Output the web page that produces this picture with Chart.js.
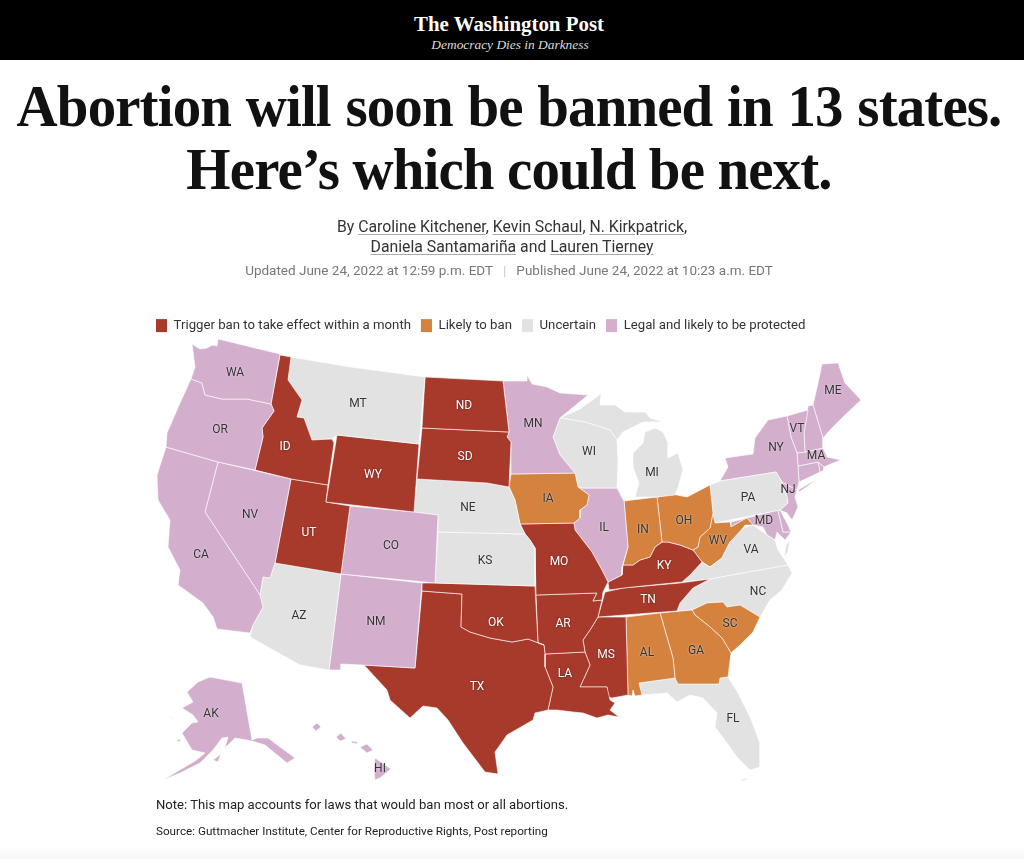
<!DOCTYPE html>
<html>
<head>
<meta charset="utf-8">
<title>Abortion will soon be banned in 13 states</title>
<script src="https://cdn.jsdelivr.net/npm/chart.js"></script>
<style>
    html, body { margin: 0; padding: 0; background: #fff; }
    body { position: relative; width: 1024px; height: 859px; overflow: hidden; font-family: Roboto, sans-serif; color: #222; }
    #map { position: absolute; left: 0; top: 0; }
    .t { position: absolute; left: 0; width: 1024px; text-align: center; white-space: nowrap; }
    #bar { position: absolute; left: 0; top: 0; width: 1024px; height: 60px; background: #000; }
    #logo { top: 8px; left: -3px; color: #fff; font: bold 20.9px/32px "Liberation Serif", serif; }
    #motto { top: 36px; left: -2px; color: #ddd; font: italic 13.4px/17px "Liberation Serif", serif; }
    .head { font: 700 60px/70px "Liberation Serif", serif; color: #111; letter-spacing: -0.9px; transform: scaleX(0.948); }
    .by { font-size: 15.8px; line-height: 20px; color: #333; }
    .by u { text-decoration-color: #aaa; text-underline-offset: 2px; }
    #dates { top: 261px; left: -3px; font-size: 13.5px; line-height: 18px; color: #777; }
    #dates span { color: #ccc; margin: 0 10px; }
    .foot { position: absolute; left: 156px; white-space: nowrap; }
    #fade { position: absolute; left: 0; top: 846px; width: 1024px; height: 13px; background: linear-gradient(#fff, #f7f7f7); }
</style>
</head>
<body>
<canvas id="map" width="1024" height="859"></canvas>
<div id="bar"></div>
<div id="logo" class="t">The Washington Post</div>
<div id="motto" class="t">Democracy Dies in Darkness</div>
<div class="t head" style="top:71px;left:-10px;word-spacing:1.4px">Abortion will soon be banned in 13 states.</div>
<div class="t head" style="top:134px;left:-3px">Here’s which could be next.</div>
<div class="t by" style="top:217px">By <u>Caroline Kitchener</u>, <u>Kevin Schaul</u>, <u>N. Kirkpatrick</u>,</div>
<div class="t by" style="top:237px"><u>Daniela Santamariña</u> and <u>Lauren Tierney</u></div>
<div id="dates" class="t">Updated June 24, 2022 at 12:59 p.m. EDT<span>|</span>Published June 24, 2022 at 10:23 a.m. EDT</div>
<div class="foot" style="top:796px;font-size:13.1px;line-height:18px;color:#222">Note: This map accounts for laws that would ban most or all abortions.</div>
<div class="foot" style="top:823px;font-size:11.7px;line-height:16px;color:#222">Source: Guttmacher Institute, Center for Reproductive Rights, Post reporting</div>
<div id="fade"></div>

<script>
    // legend classes
    const categories = ['Trigger ban to take effect within a month', 'Likely to ban', 'Uncertain', 'Legal and likely to be protected'];
    const triggerStates = ['ID', 'WY', 'UT', 'ND', 'SD', 'TX', 'OK', 'MO', 'AR', 'LA', 'MS', 'TN', 'KY'];
    const likelyStates = ['IA', 'IN', 'OH', 'WV', 'AL', 'GA', 'SC'];
    const uncertainStates = ['MT', 'AZ', 'NE', 'KS', 'WI', 'MI', 'PA', 'VA', 'NC', 'FL'];
    const protectedStates = ['WA', 'OR', 'CA', 'NV', 'CO', 'NM', 'MN', 'IL', 'NY', 'VT', 'NH', 'ME', 'MA', 'CT', 'RI', 'NJ', 'DE', 'MD', 'AK', 'HI'];

    // state outlines, in map units
    const WA = [[218,339],[280,354],[271,404],[247,399],[222,399],[205,395],[202,383],[191,379],[195,367],[192,344],[200,349],[207,348],[212,345],[217,346]];
    const OR = [[191,379],[202,383],[205,395],[222,399],[247,399],[271,404],[274,411],[262,428],[263,437],[255,470],[218,462],[166,447],[167,433],[180,403]];
    const CA = [[166,447],[218,462],[205,512],[260,595],[263,607],[253,625],[250,633],[217,629],[213,617],[203,603],[178,585],[180,570],[168,547],[170,520],[158,500],[157,475]];
    const NV = [[218,462],[291,479],[275,563],[270,578],[263,577],[260,595],[205,512]];
    const ID = [[280,355],[291,357],[288,380],[302,400],[297,417],[304,418],[312,440],[332,439],[334,443],[328,485],[291,479],[255,470],[263,437],[262,428],[274,411],[271,404]];
    const MT = [[291,357],[350,367],[425,377],[419,444],[337,435],[332,439],[312,440],[304,418],[297,417],[302,400],[288,380]];
    const WY = [[337,435],[419,444],[414,512],[326,502]];
    const UT = [[291,479],[328,485],[326,502],[350,506],[341,574],[275,563]];
    const CO = [[350,506],[414,512],[438,515],[435,583],[341,574]];
    const AZ = [[275,563],[341,574],[329,670],[300,665],[250,637],[253,625],[263,607],[260,595],[263,577],[270,578]];
    const NM = [[341,574],[422,583],[415,668],[363,665],[341,664],[341,670],[329,670]];
    const ND = [[425,377],[503,381],[509,432],[422,428]];
    const SD = [[422,428],[509,432],[507,437],[511,442],[509,487],[487,483],[417,479]];
    const NE = [[417,479],[487,483],[509,487],[515,500],[520,524],[525,534],[438,532],[438,515],[414,512]];
    const KS = [[438,532],[525,534],[530,540],[535,548],[535,586],[435,583]];
    const OK = [[422,583],[435,583],[535,586],[538,643],[544,645],[528,639],[512,642],[490,638],[470,632],[461,627],[462,594],[422,591]];
    const TX = [[422,591],[462,594],[461,627],[470,632],[490,638],[512,642],[528,639],[544,645],[545,654],[545,667],[553,687],[548,710],[535,713],[533,720],[507,735],[495,752],[498,774],[485,772],[463,743],[448,720],[437,708],[423,706],[410,718],[390,700],[387,690],[364,665],[415,668]];
    const MN = [[503,381],[527,381],[527,375],[532,384],[547,387],[560,393],[588,395],[560,418],[553,437],[560,455],[575,473],[511,474],[511,442],[507,437],[509,432]];
    const IA = [[511,474],[575,473],[578,487],[589,495],[587,505],[580,510],[580,518],[574,523],[520,524],[515,500],[509,487]];
    const MO = [[520,524],[574,523],[575,530],[592,552],[603,572],[608,582],[603,592],[602,600],[593,601],[597,593],[536,595],[535,548],[530,540],[525,534]];
    const AR = [[536,595],[597,593],[593,601],[602,600],[598,617],[590,630],[583,640],[585,652],[545,654],[544,645],[538,643]];
    const LA = [[545,654],[585,652],[590,665],[580,687],[607,687],[610,700],[615,703],[610,710],[619,717],[608,715],[597,718],[583,713],[573,712],[557,710],[548,710],[553,687],[545,667]];
    const WI = [[560,418],[585,422],[610,430],[617,440],[618,460],[617,488],[582,488],[578,487],[575,473],[560,455],[553,437]];
    const IL = [[582,488],[617,488],[624,501],[628,547],[622,567],[622,575],[608,582],[603,572],[592,552],[575,530],[574,523],[580,518],[580,510],[587,505],[589,495],[578,487]];
    const MIupper = [[560,418],[580,409],[598,396],[601,393],[600,405],[615,405],[625,412],[645,412],[650,418],[663,422],[643,422],[623,432],[617,440],[610,430],[585,422]];
    const MIlower = [[633,453],[643,443],[645,432],[655,428],[663,432],[668,443],[668,458],[678,453],[683,470],[678,487],[675,495],[657,497],[635,497],[639,483],[633,467]];
    const IN = [[624,501],[657,497],[662,542],[655,547],[650,557],[640,560],[633,565],[623,565],[628,547]];
    const OH = [[657,497],[672,494],[687,497],[710,485],[713,513],[710,528],[700,537],[698,547],[693,550],[680,545],[668,542],[662,542]];
    const KY = [[623,565],[633,565],[640,560],[650,557],[655,547],[662,542],[668,542],[680,545],[693,550],[702,562],[690,575],[682,582],[633,587],[624,588],[609,590],[608,582],[622,575]];
    const TN = [[710,579],[693,588],[680,603],[677,611],[598,617],[605,592],[623,588],[680,583]];
    const MS = [[598,617],[626,617],[628,695],[612,698],[608,697],[607,687],[580,687],[590,665],[585,652],[583,640],[590,630]];
    const AL = [[626,617],[660,613],[673,658],[675,678],[639,683],[642,695],[635,696],[633,690],[632,696],[628,695]];
    const GA = [[660,613],[692,610],[695,615],[710,627],[722,638],[731,653],[728,677],[720,678],[719,684],[678,684],[675,678],[673,658]];
    const SC = [[692,610],[707,603],[723,602],[727,607],[740,605],[760,617],[753,632],[740,645],[731,653],[722,638],[710,627],[695,615]];
    const FL = [[639,683],[675,678],[678,684],[719,684],[720,678],[728,677],[738,693],[750,717],[760,743],[760,767],[750,770],[737,757],[727,743],[715,727],[717,713],[703,698],[690,695],[677,702],[667,693],[642,695]];
    const FLkeys = [[740,781],[746,778],[748,778],[744,781]];
    const NC = [[710,579],[788,565],[792,573],[782,590],[770,600],[760,617],[740,605],[727,607],[723,602],[707,603],[692,610],[677,611],[680,603],[693,588]];
    const VA = [[682,582],[690,575],[702,562],[710,567],[722,558],[730,542],[743,528],[753,525],[767,535],[775,540],[778,550],[788,565],[710,579]];
    const VAshore = [[790,540],[788,552],[784,557],[786,545]];
    const WV = [[713,513],[715,523],[730,522],[731,527],[743,520],[747,518],[753,525],[745,525],[737,537],[730,542],[722,558],[710,567],[702,562],[693,550],[698,547],[700,537],[710,528]];
    const PA = [[710,485],[720,481],[776,472],[782,482],[787,497],[788,503],[780,510],[715,523],[713,513]];
    const NY = [[720,481],[728,467],[725,458],[753,454],[755,438],[768,420],[787,416],[791,437],[797,453],[798,466],[799,482],[797,490],[782,482],[776,472]];
    const NYisland = [[798,490],[817,479],[808,486],[799,492]];
    const VT = [[787,416],[808,410],[804,433],[805,452],[797,453],[791,437]];
    const NH = [[808,406],[813,405],[823,438],[823,448],[805,452],[804,433]];
    const ME = [[813,405],[818,383],[822,364],[838,363],[845,383],[861,400],[845,415],[830,430],[823,438]];
    const MA = [[797,453],[805,452],[823,448],[827,457],[841,460],[833,463],[824,467],[818,462],[798,466]];
    const CT = [[798,466],[818,462],[820,472],[799,482]];
    const RI = [[818,462],[824,467],[823,471],[820,472]];
    const NJ = [[782,482],[797,490],[795,497],[798,507],[792,520],[787,513],[780,510],[788,503],[787,497]];
    const DE = [[778,510],[780,510],[788,525],[791,532],[783,532]];
    const MD = [[731,522],[778,510],[783,532],[791,532],[785,540],[777,532],[775,540],[767,535],[763,527],[753,525],[747,518],[743,520],[731,527]];
    const AKmain = [[210,677],[242,683],[252,740],[257,738],[268,738],[295,758],[287,763],[265,745],[252,741],[235,738],[225,748],[228,737],[222,738],[213,750],[200,763],[180,773],[163,780],[178,771],[195,761],[205,753],[192,750],[182,733],[192,723],[198,722],[193,715],[182,708],[193,702],[187,692],[198,682]];
    const AKkodiak = [[213,760],[221,754],[218,762]];
    const AKlawrence = [[168,716],[175,720],[171,717]];
    const AKnunivak = [[176,740],[181,739],[180,742]];
    const HIkauai = [[312,727],[317,723],[321,727],[316,731]];
    const HIoahu = [[336,737],[341,733],[346,739],[340,741]];
    const HImolokai = [[351,741],[358,742],[358,744],[352,743]];
    const HImaui = [[360,747],[367,744],[373,750],[367,753]];
    const HIbig = [[375,758],[391,769],[380,778],[375,780],[374,770]];

    const stateParts = {
        WA: [WA], OR: [OR], CA: [CA], NV: [NV], ID: [ID], MT: [MT], WY: [WY], UT: [UT], CO: [CO], AZ: [AZ], NM: [NM],
        ND: [ND], SD: [SD], NE: [NE], KS: [KS], OK: [OK], TX: [TX], MN: [MN], IA: [IA], MO: [MO], AR: [AR], LA: [LA],
        WI: [WI], IL: [IL], MI: [MIupper, MIlower], IN: [IN], OH: [OH], KY: [KY], TN: [TN], MS: [MS], AL: [AL], GA: [GA],
        SC: [SC], FL: [FL, FLkeys], NC: [NC], VA: [VA, VAshore], WV: [WV], PA: [PA], NY: [NY, NYisland], VT: [VT], NH: [NH],
        ME: [ME], MA: [MA], CT: [CT], RI: [RI], NJ: [NJ], DE: [DE], MD: [MD],
        AK: [AKmain, AKkodiak, AKlawrence, AKnunivak], HI: [HIkauai, HIoahu, HImolokai, HImaui, HIbig]
    };

    // where the two letter codes sit
    const labelCodes = ['WA','OR','CA','NV','ID','MT','WY','UT','AZ','CO','NM','ND','SD','NE','KS','OK','TX','MN','IA','MO','AR','LA','WI','IL','MI','IN','OH','KY','TN','MS','AL','GA','SC','FL','NC','VA','WV','PA','NY','VT','ME','MA','NJ','MD','AK','HI'];
    const labelX = [235,220,201,250,285,358,373,309,299,391,376,464,465,468,485,496,477,533,548,559,563,565,589,604,652,643,684,664,648,606,647,696,730,733,758,751,718,748,776,797,833,816,788,764,211,380];
    const labelY = [371,428,553,513,445,402,473,531,614,544,620,404,455,506,559,621,685,422,497,560,622,672,450,526,471,528,519,564,598,653,651,649,622,717,590,548,539,496,446,427,389,454,488,519,712,767];

    const colors = ['#a83a2c', '#d4823e', '#e2e2e2', '#d3aecd'];
    const groups = [triggerStates, likelyStates, uncertainStates, protectedStates];

    function colorOf(code) {
        return colors[groups.findIndex(g => g.includes(code))];
    }

    const datasets = [];
    Object.keys(stateParts).forEach(code => {
        stateParts[code].forEach(part => {
            const pts = part.concat([part[0]]).map(p => ({ x: p[0], y: p[1] }));
            datasets.push({
                label: code,
                data: pts,
                showLine: true,
                fill: 'shape',
                tension: 0,
                pointRadius: 0,
                backgroundColor: colorOf(code),
                borderColor: 'rgba(255,255,255,0.75)',
                borderWidth: 0.8
            });
        });
    });

    const stateLabels = {
        id: 'stateLabels',
        afterDatasetsDraw(chart) {
            const ctx = chart.ctx;
            ctx.save();
            ctx.font = '12px Roboto, sans-serif';
            ctx.textAlign = 'center';
            ctx.textBaseline = 'middle';
            labelCodes.forEach((code, i) => {
                const onRed = triggerStates.includes(code);
                const x = chart.scales.x.getPixelForValue(labelX[i]);
                const y = chart.scales.y.getPixelForValue(labelY[i]) + 1.5;
                ctx.shadowColor = onRed ? 'rgba(60,20,15,0.8)' : 'rgba(255,255,255,0.8)';
                ctx.shadowBlur = 2;
                ctx.fillStyle = onRed ? '#fff' : '#333';
                ctx.fillText(code, x, y);
            });
            ctx.restore();
        }
    };

    new Chart(document.getElementById('map').getContext('2d'), {
        type: 'scatter',
        data: { datasets: datasets },
        plugins: [stateLabels],
        options: {
            responsive: false,
            animation: false,
            events: [],
            layout: { padding: { left: 146, top: 309 } },
            scales: {
                x: { display: false, min: 146, max: 1024 },
                y: { display: false, min: 339, max: 859, reverse: true }
            },
            plugins: {
                tooltip: { enabled: false },
                legend: {
                    position: 'top',
                    align: 'start',
                    maxHeight: 30,
                    labels: {
                        boxWidth: 11,
                        boxHeight: 13,
                        padding: 10,
                        color: '#333',
                        font: { family: 'Roboto, sans-serif', size: 13.2 },
                        generateLabels: () => categories.map((c, i) => ({
                            text: c,
                            fillStyle: colors[i],
                            strokeStyle: colors[i],
                            fontColor: '#333',
                            lineWidth: 0,
                            hidden: false
                        }))
                    }
                }
            }
        }
    });
</script>
</body>
</html>
